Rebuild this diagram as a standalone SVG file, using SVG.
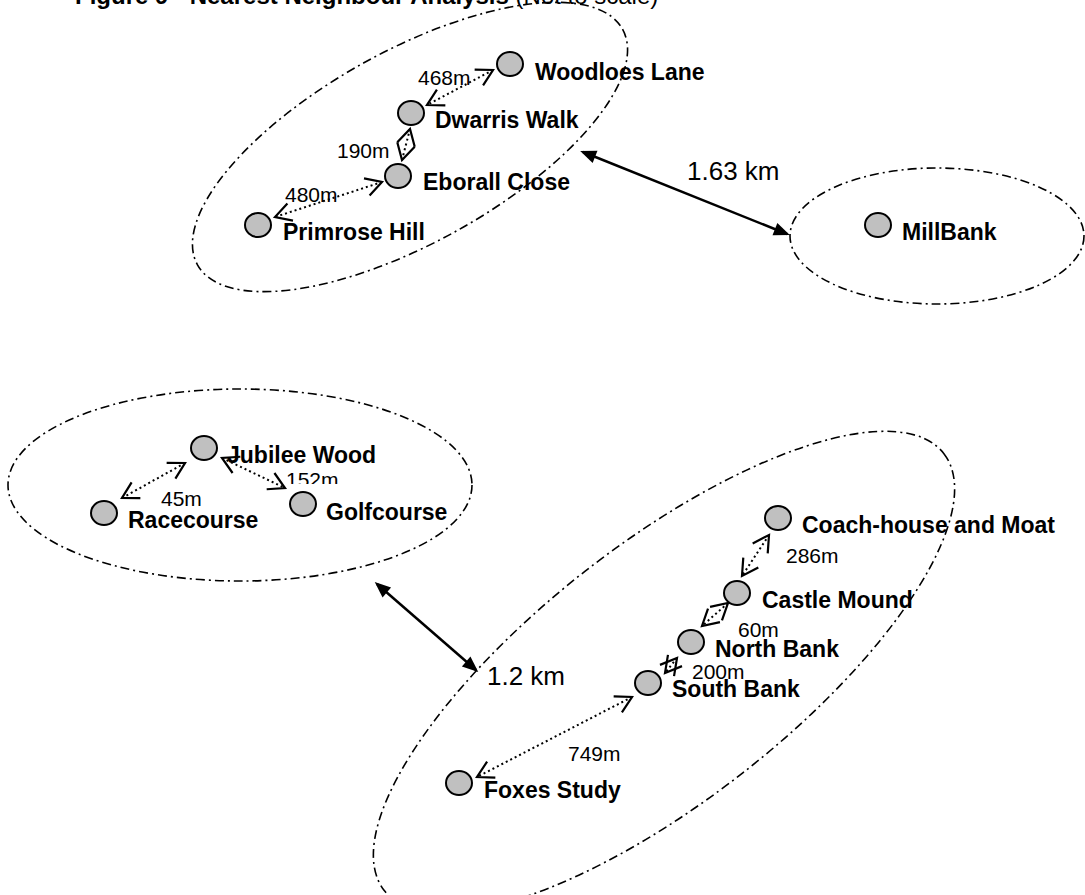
<svg xmlns="http://www.w3.org/2000/svg" width="1085" height="895" viewBox="0 0 1085 895">
<style>
.bg{fill:#fff}
.grp{fill:none;stroke:#000;stroke-width:1.6;stroke-dasharray:9 4 2 4}
.site{fill:#c0c0c0;stroke:#000;stroke-width:2}
.lbl{font-family:"Liberation Sans",Arial,sans-serif;font-weight:bold;font-size:23px;fill:#000}
.dist{font-family:"Liberation Sans",Arial,sans-serif;font-size:21px;fill:#000}
.km{font-family:"Liberation Sans",Arial,sans-serif;font-size:26px;fill:#000}
.title{font-family:"Liberation Sans",Arial,sans-serif;font-weight:bold;font-size:24px;fill:#000}
.dot{fill:none;stroke:#000;stroke-width:2;stroke-dasharray:2 3;marker-start:url(#open);marker-end:url(#open)}
.solid{fill:none;stroke:#000;stroke-width:2.5;marker-start:url(#filled);marker-end:url(#filled)}
</style>
<defs>
<marker id="open" markerUnits="userSpaceOnUse" orient="auto-start-reverse" refX="0" refY="0" markerWidth="40" markerHeight="40" viewBox="-20 -20 40 40" overflow="visible">
<path d="M -16,-9 L 0,0 L -16,9" fill="none" stroke="#000" stroke-width="2.2"/>
</marker>
<marker id="filled" markerUnits="userSpaceOnUse" orient="auto-start-reverse" refX="0" refY="0" markerWidth="40" markerHeight="40" viewBox="-20 -20 40 40" overflow="visible">
<path d="M -13,-6.5 L 3,0 L -13,6.5 Z" fill="#000" stroke="none"/>
</marker>
<clipPath id="clip152"><rect x="280" y="460" width="60" height="24"/></clipPath>
</defs>
<rect class="bg" x="0" y="0" width="1085" height="895"/>

<text class="title" x="75" y="4">Figure 9 - Nearest Neighbour Analysis<tspan font-weight="normal"> (Not to scale)</tspan></text>

<g id="clusters">
<ellipse id="cluster-north" class="grp" cx="0" cy="0" rx="243" ry="96" transform="translate(410,147) rotate(-29)"/>
<ellipse id="cluster-millbank" class="grp" cx="937" cy="236" rx="147" ry="68"/>
<ellipse id="cluster-west" class="grp" cx="240" cy="485" rx="232" ry="96"/>
<ellipse id="cluster-south" class="grp" cx="0" cy="0" rx="355" ry="128" transform="translate(664,672) rotate(-38)"/>
</g>

<g id="connectors">
<line class="dot" x1="493" y1="70" x2="427" y2="105"/>
<line class="dot" x1="410" y1="129" x2="402" y2="160"/>
<line class="dot" x1="382" y1="182" x2="275" y2="217"/>
<line class="dot" x1="185" y1="463" x2="122" y2="498"/>
<line class="dot" x1="222" y1="458" x2="285" y2="488"/>
<line class="dot" x1="769" y1="535" x2="742" y2="576"/>
<line class="dot" x1="728" y1="603" x2="702" y2="626"/>
<line class="dot" x1="677" y1="658" x2="665" y2="673"/>
<line class="dot" x1="632" y1="697" x2="477" y2="777"/>
<line class="solid" x1="583" y1="152" x2="787" y2="234"/>
<line class="solid" x1="377" y1="584" x2="476" y2="670"/>
<text class="dist" x="418" y="85">468m</text>
<text class="dist" x="337" y="158">190m</text>
<text class="dist" x="285" y="202">480m</text>
<text class="km" x="687" y="180">1.63 km</text>
<text class="dist" x="161" y="506">45m</text>
<text class="dist" x="286" y="487" clip-path="url(#clip152)">152m</text>
<text class="km" x="487" y="685">1.2 km</text>
<text class="dist" x="786" y="563">286m</text>
<text class="dist" x="738" y="637">60m</text>
<text class="dist" x="692" y="679">200m</text>
<text class="dist" x="568" y="761">749m</text>
</g>

<g id="node-woodloes-lane"><ellipse class="site" cx="510" cy="64" rx="13" ry="12"/><text class="lbl" x="535" y="80">Woodloes Lane</text></g>
<g id="node-dwarris-walk"><ellipse class="site" cx="411" cy="113" rx="13" ry="12"/><text class="lbl" x="435" y="128">Dwarris Walk</text></g>
<g id="node-eborall-close"><ellipse class="site" cx="398" cy="176" rx="13" ry="12"/><text class="lbl" x="423" y="190">Eborall Close</text></g>
<g id="node-primrose-hill"><ellipse class="site" cx="258" cy="225" rx="13" ry="12"/><text class="lbl" x="283" y="240">Primrose Hill</text></g>
<g id="node-millbank"><ellipse class="site" cx="878" cy="225" rx="13" ry="12"/><text class="lbl" x="902" y="240">MillBank</text></g>
<g id="node-jubilee-wood"><ellipse class="site" cx="204" cy="448" rx="13" ry="12"/><text class="lbl" x="227" y="463">Jubilee Wood</text></g>
<g id="node-racecourse"><ellipse class="site" cx="104" cy="513" rx="13" ry="12"/><text class="lbl" x="128" y="528">Racecourse</text></g>
<g id="node-golfcourse"><ellipse class="site" cx="303" cy="504" rx="13" ry="12"/><text class="lbl" x="326" y="520">Golfcourse</text></g>
<g id="node-coach-house"><ellipse class="site" cx="778" cy="518" rx="13" ry="12"/><text class="lbl" x="802" y="533">Coach-house and Moat</text></g>
<g id="node-castle-mound"><ellipse class="site" cx="737" cy="593" rx="13" ry="12"/><text class="lbl" x="762" y="608">Castle Mound</text></g>
<g id="node-north-bank"><ellipse class="site" cx="691" cy="642" rx="13" ry="12"/><text class="lbl" x="715" y="657">North Bank</text></g>
<g id="node-south-bank"><ellipse class="site" cx="648" cy="683" rx="13" ry="12"/><text class="lbl" x="672" y="697">South Bank</text></g>
<g id="node-foxes-study"><ellipse class="site" cx="459" cy="783" rx="13" ry="12"/><text class="lbl" x="484" y="798">Foxes Study</text></g>
</svg>
